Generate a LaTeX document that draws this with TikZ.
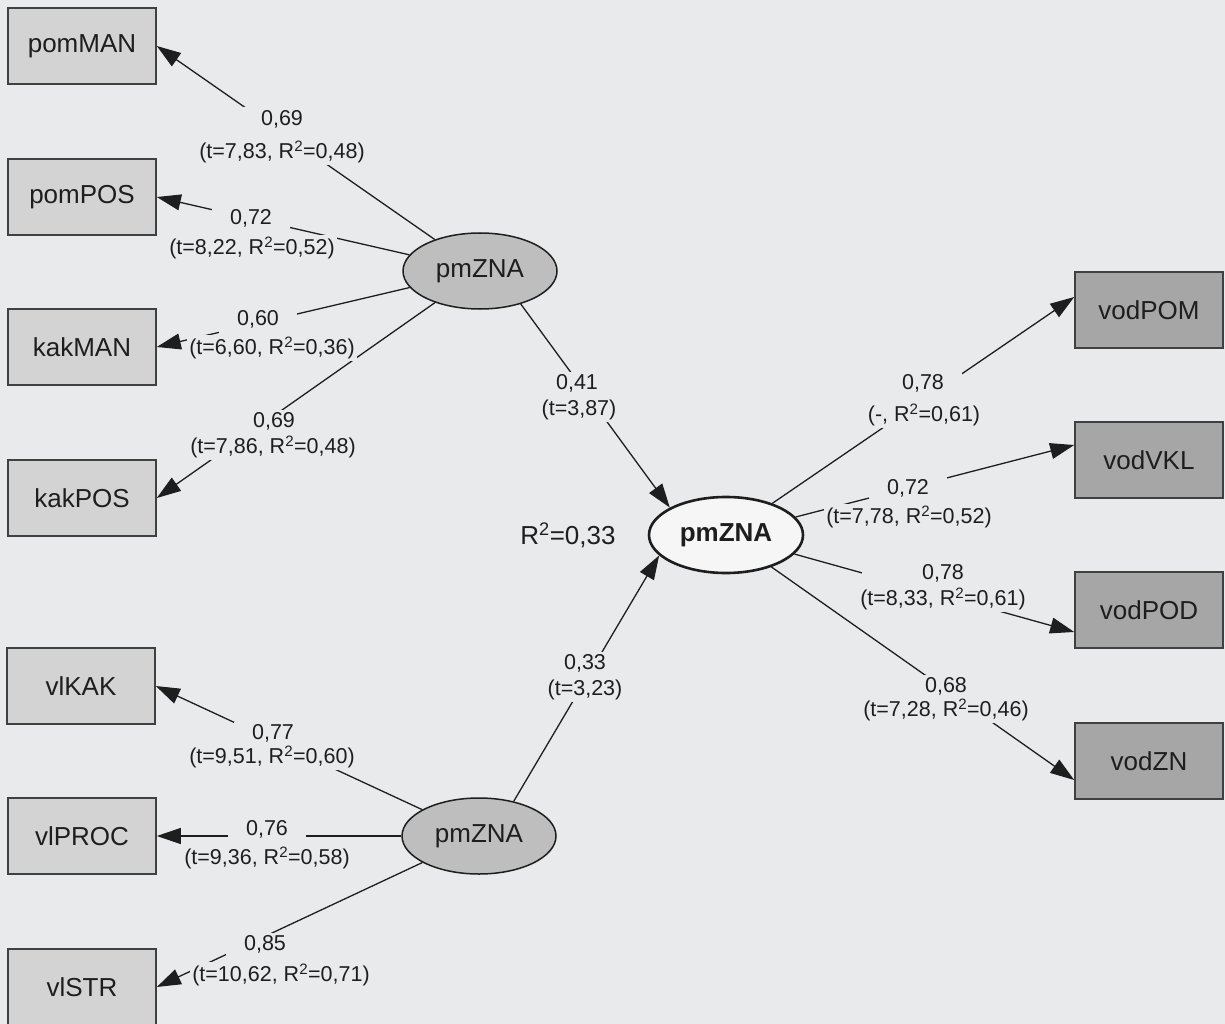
\documentclass[tikz,border=0pt]{standalone}
\usepackage{fontspec}
\setmainfont{Liberation Sans}
\usetikzlibrary{arrows.meta,shapes.geometric}
\definecolor{bg}{RGB}{233,234,236}
\definecolor{lbox}{RGB}{211,211,211}
\definecolor{rbox}{RGB}{166,166,166}
\definecolor{ell}{RGB}{190,190,190}
\definecolor{midfill}{RGB}{246,246,246}
\definecolor{ink}{RGB}{30,30,30}
\begin{document}
\begin{tikzpicture}[x=1pt,y=-1pt,
  every node/.style={text=ink},
  mbox/.style={draw=ink!85, line width=1.6pt, minimum width=148pt, minimum height=76pt, inner sep=0pt, font=\fontsize{26}{26}\selectfont},
  lbx/.style={mbox, fill=lbox},
  rbx/.style={mbox, fill=rbox},
  lat/.style={ellipse, draw=ink, line width=1.5pt, fill=ell, minimum width=154pt, minimum height=76pt, inner sep=0pt, font=\fontsize{26}{26}\selectfont},
  conn/.style={draw=ink, line width=1.3pt},
  arr/.style={conn, -{Triangle[length=24pt,width=16pt]}},
  rowa/.style={fill=bg, anchor=base, text height=16pt, text depth=12pt, inner xsep=18pt, inner ysep=2pt, font=\fontsize{21.5}{21.5}\selectfont},
  rowb/.style={fill=bg, inner xsep=2pt, inner ysep=2pt, font=\fontsize{21.5}{21.5}\selectfont},
]
\useasboundingbox (0,0) rectangle (1225,1024);
\clip (0,0) rectangle (1225,1024);
\fill[bg] (0,0) rectangle (1225,1024);

% observed variables, left
\node[lbx] (pomMAN) at (82,46)  {pomMAN};
\node[lbx] (pomPOS) at (82,197) {pomPOS};
\node[lbx] (kakMAN) at (82,347) {kakMAN};
\node[lbx] (kakPOS) at (82,498) {kakPOS};
\node[lbx] (vlKAK)  at (81,686) {vlKAK};
\node[lbx] (vlPROC) at (82,836) {vlPROC};
\node[lbx] (vlSTR)  at (82,987) {vlSTR};
% observed variables, right
\node[rbx] (vodPOM) at (1149,310) {vodPOM};
\node[rbx] (vodVKL) at (1149,460) {vodVKL};
\node[rbx] (vodPOD) at (1149,610) {vodPOD};
\node[rbx] (vodZN)  at (1149,761) {vodZN};
% latent variables
\node[lat] (upE)  at (480,271) {pmZNA};
\node[lat] (lowE) at (479,836) {pmZNA};
\node[lat, fill=midfill, line width=2.6pt, font=\fontsize{26}{26}\selectfont\bfseries] (midE) at (726,535) {pmZNA};

% connectors
\draw[arr] (upE) -- (pomMAN.east);
\draw[arr] (upE) -- (pomPOS.east);
\draw[arr] (upE) -- (kakMAN.east);
\draw[arr] (upE) -- (kakPOS.east);
\draw[arr] (lowE) -- (vlKAK.east);
\draw[arr] (lowE) -- (vlPROC.east);
\draw[arr] (lowE) -- (vlSTR.east);
\draw[arr] (midE) -- ([yshift=13pt]vodPOM.west);
\draw[arr] (midE) -- ([yshift=15pt]vodVKL.west);
\draw[arr] (midE) -- ([yshift=-22pt]vodPOD.west);
\draw[arr] (midE) -- ([yshift=-19pt]vodZN.west);
\draw[arr] (upE.321.7) -- (midE.154.6);
\draw[arr] (lowE.45) -- (midE.197.4);

% labels, left
\node[rowa] (l1a) at (282,125.5) {0,69};
\node[rowb] (l1b) at (282,152) {(t=7,83, R\textsuperscript{2}=0,48)};
\node[rowa] (l2a) at (251,224.5) {0,72};
\node[rowb] (l2b) at (252,248) {(t=8,22, R\textsuperscript{2}=0,52)};
\node[rowa] (l3a) at (258,325.5) {0,60};
\node[rowb] (l3b) at (272,348) {(t=6,60, R\textsuperscript{2}=0,36)};
\node[rowa] (l4a) at (274,427.5) {0,69};
\node[rowb] (l4b) at (273,447) {(t=7,86, R\textsuperscript{2}=0,48)};
\node[rowa] (l5a) at (273,739.5) {0,77};
\node[rowb] (l5b) at (272,757) {(t=9,51, R\textsuperscript{2}=0,60)};
\node[rowa] (l6a) at (267,835.5) {0,76};
\node[rowb] (l6b) at (267,858) {(t=9,36, R\textsuperscript{2}=0,58)};
\node[rowa] (l7a) at (265,950.5) {0,85};
\node[rowb] (l7b) at (281,975) {(t=10,62, R\textsuperscript{2}=0,71)};
% labels, middle
\node[rowa] (m1a) at (577,389.5) {0,41};
\node[rowb] (m1b) at (579,410) {(t=3,87)};
\node[rowa] (m2a) at (585,669.5) {0,33};
\node[rowb] (m2b) at (585,690) {(t=3,23)};
\node[font=\fontsize{26}{26}\selectfont] (r2) at (568,535) {R\textsuperscript{2}=0,33};
% labels, right
\node[rowa] (r1a) at (923,389.5) {0,78};
\node[rowb] (r1b) at (924,415) {(-, R\textsuperscript{2}=0,61)};
\node[rowa] (r2a) at (908,494.5) {0,72};
\node[rowb] (r2b) at (909,517) {(t=7,78, R\textsuperscript{2}=0,52)};
\node[rowa, minimum width=162pt] (r3a) at (943,579.5) {0,78};
\node[rowb] (r3b) at (943,599) {(t=8,33, R\textsuperscript{2}=0,61)};
\node[rowa] (r4a) at (946,692.5) {0,68};
\node[rowb] (r4b) at (946,710) {(t=7,28, R\textsuperscript{2}=0,46)};
\end{tikzpicture}
\end{document}
